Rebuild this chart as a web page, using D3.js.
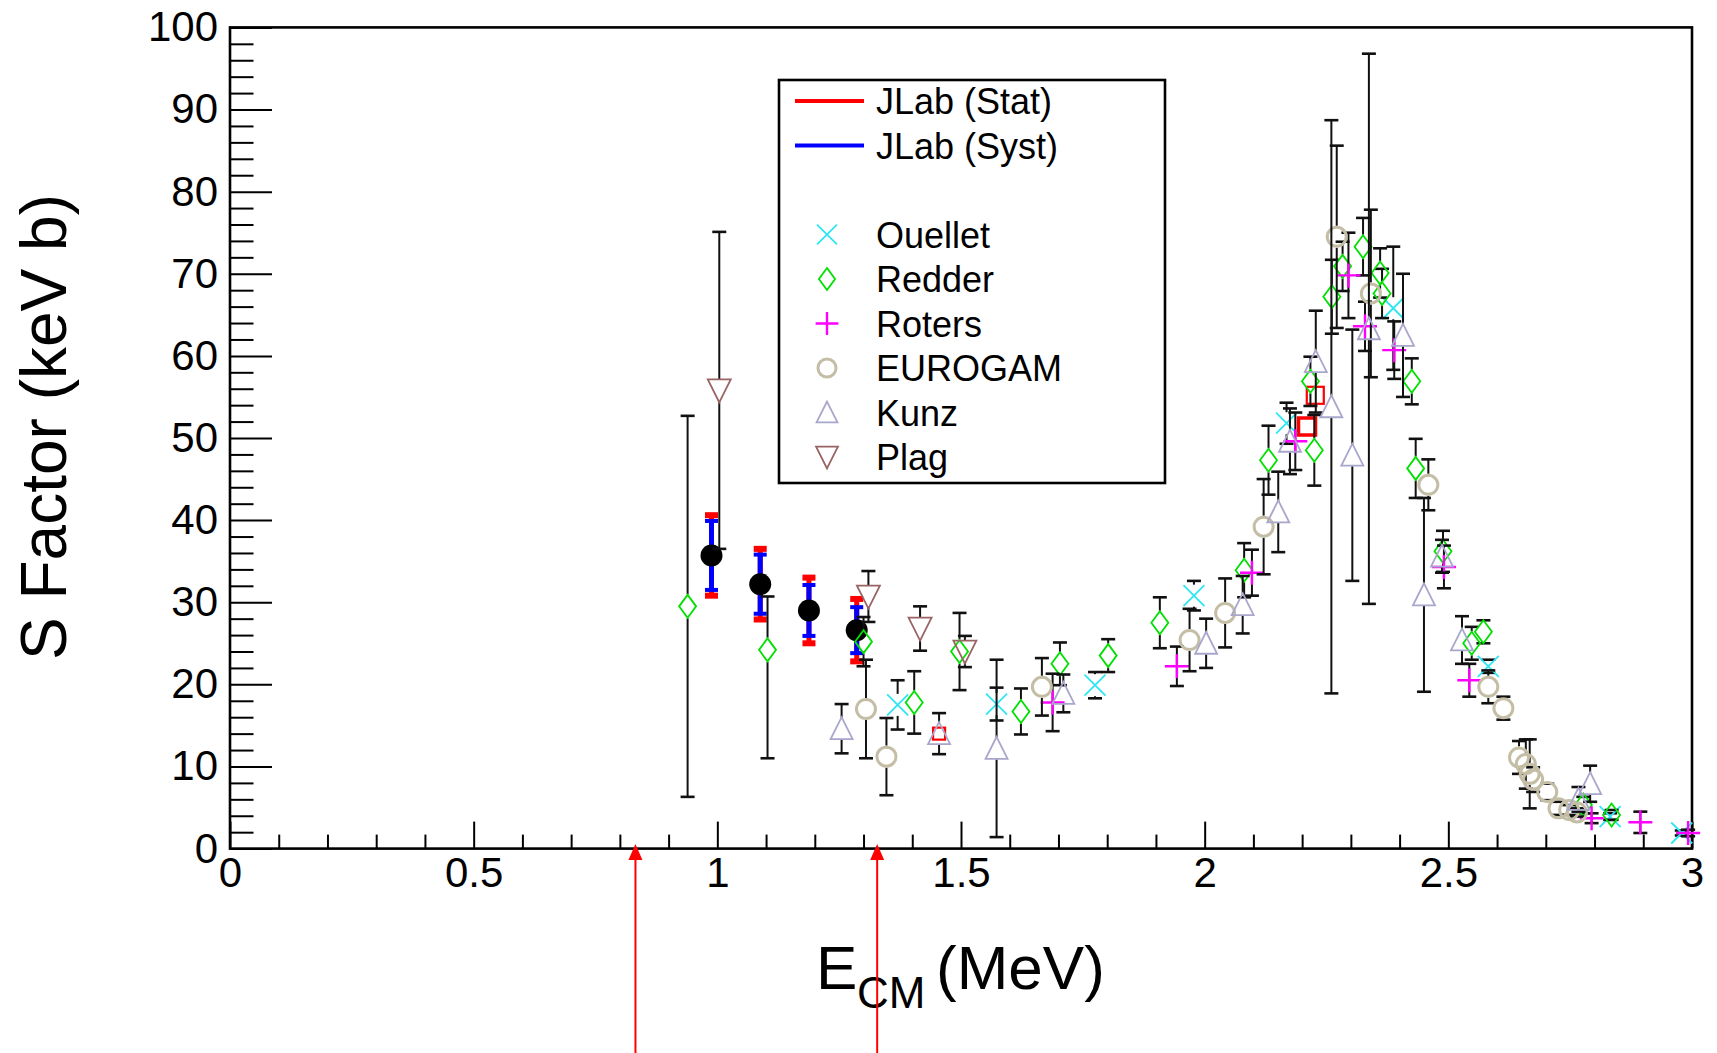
<!DOCTYPE html>
<html>
<head>
<meta charset="utf-8">
<script src="https://cdn.jsdelivr.net/npm/d3@7"></script>
<style>
  html, body { margin: 0; padding: 0; background: #fff; }
  svg { display: block; font-family: "Liberation Sans", Arial, Helvetica, sans-serif; }
</style>
</head>
<body>
<svg id="chart" width="1717" height="1053"></svg>
<script>
// ---------------- data: S factor (keV b) vs centre-of-mass energy (MeV) ----------------
const jlabE    = [0.988, 1.088, 1.188, 1.286];
const jlabS    = [35.7, 32.2, 29.0, 26.6];
const jlabStat = [4.9, 4.3, 4.0, 3.8];
const jlabSyst = [4.2, 3.6, 3.1, 2.8];

const ouelletE   = [1.370, 1.573, 1.775, 1.978, 2.168, 2.387, 2.582, 2.832, 2.979];
const ouelletS   = [17.5, 17.6, 19.9, 30.8, 51.8, 65.8, 22.2, 3.9, 1.9];
const ouelletErr = [3.0, 2.0, 1.6, 1.8, 2.5, 7.5, 0.8, 0.4, 0.3];

const redderE   = [0.939, 1.103, 1.300, 1.404, 1.497, 1.623, 1.703, 1.802, 1.908, 2.081, 2.131, 2.217, 2.225,
                   2.261, 2.283, 2.325, 2.360, 2.364, 2.425, 2.433, 2.489, 2.548, 2.572, 2.777, 2.835];
const redderS   = [29.5, 24.2, 25.2, 17.8, 24.0, 16.7, 22.5, 23.5, 27.5, 33.9, 47.3, 56.9, 48.5,
                   67.2, 70.9, 73.3, 70.1, 67.6, 56.9, 46.3, 36.2, 25.0, 26.4, 5.3, 4.1];
// [low, high] where the bar is asymmetric
const redderErr = [23.2, [13.2, 6.5], 3.0, 3.8, 4.7, 2.8, 2.6, 2.0, 3.1, 3.3, 4.2, 3.0, 4.3,
                   4.5, 3.0, 3.5, 3.0, 3.0, 2.8, 3.6, 2.5, 2.0, 1.4, 1.0, 0.6];

const rotersE   = [1.688, 1.943, 2.097, 2.186, 2.295, 2.329, 2.389, 2.491, 2.543, 2.794, 2.894, 2.992];
const rotersS   = [17.8, 22.2, 33.6, 49.6, 69.8, 63.6, 60.7, 34.3, 20.5, 3.7, 3.2, 1.9];
const rotersErr = [3.5, 2.4, 2.8, 3.5, 5.2, 3.0, 3.5, 2.6, 2.0, 0.6, 1.3, 0.4];

const eurogamE   = [1.305, 1.347, 1.666, 1.969, 2.042, 2.121, 2.271, 2.341, 2.459, 2.582, 2.613,
                    2.645, 2.659, 2.667, 2.674, 2.703, 2.726, 2.748, 2.764];
const eurogamS   = [17.0, 11.2, 19.7, 25.4, 28.7, 39.2, 74.5, 67.6, 44.3, 19.7, 17.1,
                    11.1, 10.3, 9.1, 8.4, 6.9, 4.9, 4.7, 4.4];
const eurogamErr = [6.0, 4.7, 3.5, 3.8, 4.2, 5.8, 11.1, 10.2, 3.1, 2.0, 1.4,
                    2.0, 3.0, 4.2, 1.5, 1.0, 0.8, 0.6, 0.5];

const kunzE   = [1.255, 1.455, 1.573, 1.710, 2.003, 2.078, 2.151, 2.175, 2.228, 2.260, 2.303, 2.337,
                 2.407, 2.450, 2.487, 2.528, 2.767, 2.791];
const kunzS   = [14.6, 14.0, 12.2, 18.9, 25.0, 29.7, 41.0, 49.6, 59.3, 53.8, 47.9, 63.3,
                 62.5, 30.9, 35.6, 25.4, 6.0, 7.9];
const kunzErr = [3.0, 2.5, 10.8, 2.3, 3.0, 3.5, 4.9, 4.0, 6.2, 34.9, 15.3, 33.5,
                 7.5, 11.8, 2.0, 2.9, 1.5, 2.2];

const plagE   = [1.004, 1.310, 1.416, 1.508];
const plagS   = [55.8, 30.7, 26.8, 24.0];
const plagErr = [19.3, 3.1, 2.7, 1.9];

// open red squares (not in the legend)
const squareE = [1.455, 2.210, 2.227];
const squareS = [14.0, 51.4, 55.2];

// energies flagged by the red arrows under the axis
const arrowE = [0.832, 1.328];

// axis ticks and labels
const xMajorTicks  = [0, 0.5, 1, 1.5, 2, 2.5, 3];
const xTickLabels  = ["0", "0.5", "1", "1.5", "2", "2.5", "3"];
const yMajorTicks  = [0, 10, 20, 30, 40, 50, 60, 70, 80, 90, 100];
const yTickLabels  = ["0", "10", "20", "30", "40", "50", "60", "70", "80", "90", "100"];

const legendLabels = ["JLab (Stat)", "JLab (Syst)", "", "Ouellet", "Redder", "Roters", "EUROGAM", "Kunz", "Plag"];

// ---------------- layout ----------------
const W = 1717, H = 1053;
const frame = { left: 230, right: 1692, top: 27.4, bottom: 848.6 };

const x = d3.scaleLinear().domain([0, 3]).range([frame.left, frame.right]);
const y = d3.scaleLinear().domain([0, 100]).range([frame.bottom, frame.top]);

const svg = d3.select("#chart");
svg.append("rect").attr("width", W).attr("height", H).attr("fill", "#fff");

// ---------------- axes (ticks point into the frame) ----------------
const xMinorTicks = d3.range(0, 31).map(i => i / 10).filter(v => Math.abs(v * 2 - Math.round(v * 2)) > 1e-6);
const yMinorTicks = d3.range(0, 101, 2).filter(v => v % 10 !== 0);

function styleAxis(g) {
  g.select(".domain").remove();
  g.selectAll(".tick line").attr("stroke", "#000").attr("stroke-width", 2);
  g.selectAll(".tick text").attr("fill", "#000").attr("font-size", 42)
    .attr("font-family", "'Liberation Sans', Arial, sans-serif");
}

svg.append("g").attr("transform", `translate(0,${frame.bottom})`)
  .call(d3.axisBottom(x).tickValues(xMinorTicks).tickSize(-14).tickFormat(""))
  .call(styleAxis);
svg.append("g").attr("transform", `translate(0,${frame.bottom})`)
  .call(d3.axisBottom(x).tickValues(xMajorTicks).tickSize(-27).tickPadding(9)
    .tickFormat((d, i) => xTickLabels[i]))
  .call(styleAxis);

svg.append("g").attr("transform", `translate(${frame.left},0)`)
  .call(d3.axisLeft(y).tickValues(yMinorTicks).tickSize(-23.5).tickFormat(""))
  .call(styleAxis);
svg.append("g").attr("transform", `translate(${frame.left},0)`)
  .call(d3.axisLeft(y).tickValues(yMajorTicks).tickSize(-42).tickPadding(12)
    .tickFormat((d, i) => yTickLabels[i]))
  .call(styleAxis);

// frame
svg.append("rect")
  .attr("x", frame.left).attr("y", frame.top)
  .attr("width", frame.right - frame.left).attr("height", frame.bottom - frame.top)
  .attr("fill", "none").attr("stroke", "#000").attr("stroke-width", 2.6);

// axis titles
svg.append("text")
  .attr("transform", "translate(66,427) rotate(-90)")
  .attr("text-anchor", "middle").attr("font-size", 64).attr("fill", "#000")
  .text("S Factor (keV b)");

const xTitle = svg.append("g").attr("fill", "#000");
xTitle.append("text").attr("x", 816).attr("y", 989).attr("font-size", 62).text("E");
xTitle.append("text").attr("x", 857).attr("y", 1008).attr("font-size", 44).text("CM");
xTitle.append("text").attr("x", 936).attr("y", 989).attr("font-size", 62).text("(MeV)");

// ---------------- markers ----------------
const markerShapes = {
  cross: (g, s) => g.append("path").attr("d", `M${-s},${-s}L${s},${s}M${-s},${s}L${s},${-s}`),
  plus: (g, s) => g.append("path").attr("d", `M${-s},0L${s},0M0,${-s}L0,${s}`),
  diamond: (g, s) => g.append("path").attr("d", `M0,${-s * 1.15}L${s * 0.85},0L0,${s * 1.15}L${-s * 0.85},0Z`),
  circle: (g, s) => g.append("circle").attr("r", s),
  triUp: (g, s) => g.append("path").attr("d", `M0,${-s * 1.05}L${s},${s * 0.95}L${-s},${s * 0.95}Z`),
  triDown: (g, s) => g.append("path").attr("d", `M0,${s * 1.05}L${s},${-s * 0.95}L${-s},${-s * 0.95}Z`),
  square: (g, s) => g.append("rect").attr("x", -s).attr("y", -s).attr("width", 2 * s).attr("height", 2 * s)
};

function drawMarker(g, type, cx, cy, size, color, width) {
  const m = g.append("g").attr("transform", `translate(${cx},${cy})`);
  markerShapes[type](m, size).attr("fill", "none").attr("stroke", color).attr("stroke-width", width);
}

// vertical error bars with end caps, leaving a gap around the marker
function drawErrors(g, E, S, err, gap, color, lineW, capHalf, capW) {
  E.forEach((e, i) => {
    const d = err[i];
    const lo = Array.isArray(d) ? d[0] : d;
    const hi = Array.isArray(d) ? d[1] : d;
    const cx = x(e), cy = y(S[i]);
    const yTop = y(S[i] + hi), yBot = y(S[i] - lo);
    if (cy - yTop > gap) g.append("line").attr("x1", cx).attr("x2", cx).attr("y1", yTop).attr("y2", cy - gap)
      .attr("stroke", color).attr("stroke-width", lineW);
    if (yBot - cy > gap) g.append("line").attr("x1", cx).attr("x2", cx).attr("y1", cy + gap).attr("y2", yBot)
      .attr("stroke", color).attr("stroke-width", lineW);
    [yTop, yBot].forEach(yy => g.append("line")
      .attr("x1", cx - capHalf).attr("x2", cx + capHalf).attr("y1", yy).attr("y2", yy)
      .attr("stroke", color).attr("stroke-width", capW));
  });
}

const plot = svg.append("g");

// JLab: statistical (red) and systematic (blue) bars with filled circles
jlabE.forEach((e, i) => {
  const cx = x(e), cy = y(jlabS[i]);
  const st = plot.append("g");
  st.append("line").attr("x1", cx).attr("x2", cx).attr("y1", y(jlabS[i] + jlabStat[i])).attr("y2", y(jlabS[i] - jlabStat[i]))
    .attr("stroke", "#ff0000").attr("stroke-width", 5);
  [jlabS[i] + jlabStat[i], jlabS[i] - jlabStat[i]].forEach(v => st.append("rect")
    .attr("x", cx - 6.5).attr("y", y(v) - 3).attr("width", 13).attr("height", 6).attr("fill", "#ff0000"));
  st.append("line").attr("x1", cx).attr("x2", cx).attr("y1", y(jlabS[i] + jlabSyst[i])).attr("y2", y(jlabS[i] - jlabSyst[i]))
    .attr("stroke", "#0000ff").attr("stroke-width", 5);
  [jlabS[i] + jlabSyst[i], jlabS[i] - jlabSyst[i]].forEach(v => st.append("rect")
    .attr("x", cx - 6.5).attr("y", y(v) - 2).attr("width", 13).attr("height", 4).attr("fill", "#0000ff"));
  st.append("circle").attr("cx", cx).attr("cy", cy).attr("r", 11).attr("fill", "#000");
});

const series = [
  { label: "Ouellet", E: ouelletE, S: ouelletS, err: ouelletErr, type: "cross",   size: 10.5, color: "#2ee6f2", w: 1.8, gap: 11 },
  { label: "Redder",  E: redderE,  S: redderS,  err: redderErr,  type: "diamond", size: 10,   color: "#00e000", w: 1.8, gap: 12 },
  { label: "Roters",  E: rotersE,  S: rotersS,  err: rotersErr,  type: "plus",    size: 12,   color: "#ff00ff", w: 2.4, gap: 0 },
  { label: "EUROGAM", E: eurogamE, S: eurogamS, err: eurogamErr, type: "circle",  size: 9.5,  color: "#c4bea6", w: 3,   gap: 11 },
  { label: "Kunz",    E: kunzE,    S: kunzS,    err: kunzErr,    type: "triUp",   size: 11,   color: "#a9a6cc", w: 1.8, gap: 11 },
  { label: "Plag",    E: plagE,    S: plagS,    err: plagErr,    type: "triDown", size: 11.5, color: "#9a6464", w: 1.8, gap: 11 }
];

// red open squares, drawn underneath the other data sets
const sq = plot.append("g");
squareE.forEach((e, i) => drawMarker(sq, "square", x(e), y(squareS[i]), i === 0 ? 6 : 8.5, "#ff0000", i === 1 ? 3.5 : 2.2));

series.forEach(s => {
  const g = plot.append("g");
  drawErrors(g, s.E, s.S, s.err, s.gap, "#111", 2, 7, 2.6);
  s.E.forEach((e, i) => drawMarker(g, s.type, x(e), y(s.S[i]), s.size, s.color, s.w));
});

// ---------------- red arrows under the energy axis ----------------
const arrows = svg.append("g");
arrowE.forEach(e => {
  const ax = x(e);
  arrows.append("line").attr("x1", ax).attr("x2", ax).attr("y1", 858).attr("y2", H)
    .attr("stroke", "#ff0000").attr("stroke-width", 2);
  arrows.append("path").attr("d", `M${ax},844L${ax + 7},860L${ax - 7},860Z`).attr("fill", "#ff0000");
});

// ---------------- legend ----------------
const leg = svg.append("g");
leg.append("rect").attr("x", 779).attr("y", 80).attr("width", 386).attr("height", 403)
  .attr("fill", "#fff").attr("stroke", "#000").attr("stroke-width", 2.6);

const legendColors = { "JLab (Stat)": "#ff0000", "JLab (Syst)": "#0000ff" };
legendLabels.forEach((lab, i) => {
  const cy = 101 + i * 44.5;
  if (!lab) return;
  if (legendColors[lab]) {
    leg.append("line").attr("x1", 795).attr("x2", 864).attr("y1", cy).attr("y2", cy)
      .attr("stroke", legendColors[lab]).attr("stroke-width", 4);
  } else {
    const s = series.find(d => d.label === lab);
    drawMarker(leg, s.type, 827, cy, s.size * 0.95, s.color, s.w);
  }
  leg.append("text").attr("x", 876).attr("y", cy + 13).attr("font-size", 36).attr("fill", "#000").text(lab);
});
</script>
</body>
</html>
